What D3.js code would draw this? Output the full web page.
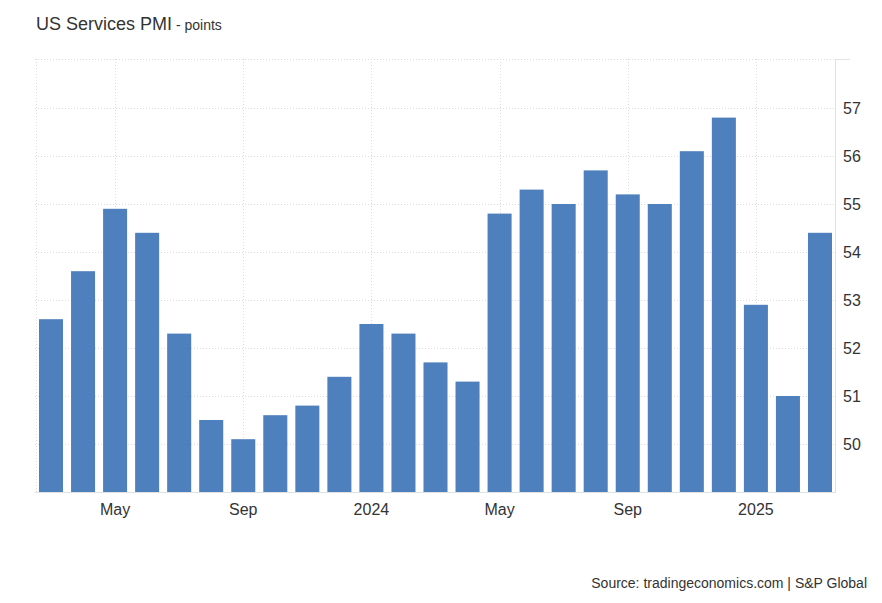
<!DOCTYPE html>
<html><head><meta charset="utf-8">
<script src="https://cdn.jsdelivr.net/npm/d3@7"></script>
<style>body{margin:0;background:#fff;font-family:"Liberation Sans",Arial,sans-serif;}</style>
</head><body>
<svg id="c" width="882" height="603"></svg>
<script>
const months = ["2023-03","2023-04","2023-05","2023-06","2023-07","2023-08","2023-09","2023-10","2023-11","2023-12","2024-01","2024-02","2024-03","2024-04","2024-05","2024-06","2024-07","2024-08","2024-09","2024-10","2024-11","2024-12","2025-01","2025-02","2025-03"];
const values = [52.6,53.6,54.9,54.4,52.3,50.5,50.1,50.6,50.8,51.4,52.5,52.3,51.7,51.3,54.8,55.3,55.0,55.7,55.2,55.0,56.1,56.8,52.9,51.0,54.4];
const xTickMonths = ["2023-05","2023-09","2024-01","2024-05","2024-09","2025-01"];
const xTickLabels = ["May","Sep","2024","May","Sep","2025"];
const yTicks = [50,51,52,53,54,55,56,57];

const svg = d3.select("#c");
const L=35, R=836, T=59, B=492;
const x = d3.scaleBand().domain(months).range([L,R]).paddingInner(0.25).paddingOuter(0.125);
const y = d3.scaleLinear().domain([49,58]).range([B,T+1]);

// grid
const g = svg.append("g");
g.selectAll("line.h").data(yTicks).join("line")
  .attr("x1",L).attr("x2",R).attr("y1",d=>Math.round(y(d))+0.5).attr("y2",d=>Math.round(y(d))+0.5)
  .attr("stroke","#dcdcdc").attr("stroke-dasharray","1,2");
g.selectAll("line.v").data(xTickMonths).join("line")
  .attr("x1",d=>Math.round(x(d)+x.bandwidth()/2)+0.5).attr("x2",d=>Math.round(x(d)+x.bandwidth()/2)+0.5)
  .attr("y1",T).attr("y2",B)
  .attr("stroke","#dcdcdc").attr("stroke-dasharray","1,2");
g.append("line").attr("x1",L+1.5).attr("x2",L+1.5).attr("y1",T).attr("y2",B).attr("stroke","#dcdcdc").attr("stroke-dasharray","1,2");
g.append("line").attr("x1",L).attr("x2",R).attr("y1",T+0.5).attr("y2",T+0.5).attr("stroke","#dcdcdc").attr("stroke-dasharray","1,2");
g.append("line").attr("x1",R).attr("x2",850).attr("y1",T+0.5).attr("y2",T+0.5).attr("stroke","#e2e2e2");

// bars
svg.append("g").selectAll("rect").data(values).join("rect")
  .attr("x",(d,i)=>x(months[i])).attr("width",x.bandwidth())
  .attr("y",d=>y(d)).attr("height",d=>B-y(d))
  .attr("fill","#4e80bd");

// axes lines
svg.append("line").attr("x1",L).attr("x2",R).attr("y1",B+0.5).attr("y2",B+0.5).attr("stroke","#e0e0e0");
svg.append("line").attr("x1",R-0.5).attr("x2",R-0.5).attr("y1",T).attr("y2",B+1).attr("stroke","#e0e0e0");

// y axis
const ya = svg.append("g").attr("transform",`translate(${R},0)`)
  .call(d3.axisRight(y).tickValues(yTicks).tickSize(0).tickPadding(7).tickFormat(d3.format("d")));
ya.select(".domain").remove();
ya.selectAll("text").attr("font-size",16).attr("fill","#333").attr("font-family","Liberation Sans, Arial, sans-serif");

// x axis
const xa = svg.append("g").attr("transform",`translate(0,${B})`)
  .call(d3.axisBottom(x).tickValues(xTickMonths).tickSize(0).tickPadding(12)
    .tickFormat(d=>xTickLabels[xTickMonths.indexOf(d)]));
xa.select(".domain").remove();
xa.selectAll("text").attr("font-size",16).attr("fill","#333").attr("font-family","Liberation Sans, Arial, sans-serif");

// title
const t = svg.append("text").attr("x",36).attr("y",30).attr("fill","#333");
t.append("tspan").attr("font-size",18).text("US Services PMI");
t.append("tspan").attr("font-size",14).text(" - points");

svg.append("text").attr("x",867).attr("y",588).attr("text-anchor","end")
  .attr("font-size",14).attr("fill","#333").text("Source: tradingeconomics.com | S&P Global");
</script>
</body></html>
